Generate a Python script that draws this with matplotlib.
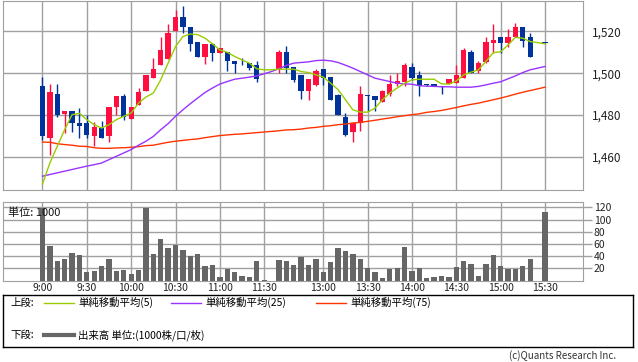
import numpy as np
import matplotlib
matplotlib.use("Agg")
import matplotlib.pyplot as plt

plt.rcParams['font.family'] = ['Noto Sans CJK JP', 'DejaVu Sans']

# 5-minute slots: 9:00 .. 11:30, lunch gap, 12:30 .. 15:30
tick_slots = [0, 6, 12, 18, 24, 30, 38, 44, 50, 56, 62, 68]
tick_labels = ["9:00", "9:30", "10:00", "10:30", "11:00", "11:30",
               "13:00", "13:30", "14:00", "14:30", "15:00", "15:30"]
price_ticks = [1460, 1480, 1500, 1520]
vol_ticks = [20, 40, 60, 80, 100, 120]

nan = np.nan
opens = [1494.0, 1468.9, 1490.2, 1480.6, 1482.1, 1476.3, 1476.3, 1469.8, 1474.0, 1469.8,
         1483.8, 1489.2, 1478.1, 1484.8, 1491.7, 1497.9, 1503.7, 1506.8, 1520.0, 1526.7,
         1521.9, 1514.8, 1507.8, 1514.0, 1509.8, 1510.0, 1505.9, 1503.9, 1504.9, 1504.0,
         nan, nan, 1501.9, 1510.2, 1503.0, 1499.2, 1491.7, 1494.4, 1502.1, 1498.3,
         1489.4, 1479.2, 1471.7, 1476.2, 1489.4, 1489.2, 1486.0, 1490.2, 1494.8, 1496.0,
         1503.0, 1499.2, 1494.8, 1494.9, 1493.9, 1494.9, 1495.4, 1497.9, 1510.0, 1501.1,
         1505.2, 1514.6, 1517.3, 1514.6, 1517.3, 1522.1, 1517.3, nan, 1514.9]
highs = [1498.3, 1494.8, 1494.9, 1482.1, 1482.1, 1483.2, 1480.0, 1476.5, 1477.0, 1484.0,
         1489.2, 1490.2, 1484.0, 1493.0, 1499.2, 1507.1, 1517.5, 1523.3, 1530.2, 1532.2,
         1521.9, 1514.8, 1514.0, 1514.3, 1511.9, 1510.0, 1505.9, 1507.1, 1504.9, 1505.9,
         nan, nan, 1511.1, 1513.0, 1503.0, 1499.2, 1497.3, 1502.1, 1502.1, 1498.3,
         1490.0, 1481.0, 1476.0, 1494.0, 1489.4, 1489.2, 1492.1, 1499.2, 1500.0, 1504.9,
         1504.9, 1501.1, 1494.8, 1494.9, 1493.9, 1497.3, 1504.0, 1511.9, 1511.1, 1505.9,
         1517.5, 1523.3, 1517.3, 1521.1, 1524.1, 1522.1, 1519.2, nan, 1514.9]
lows = [1468.3, 1460.8, 1478.9, 1471.4, 1471.7, 1468.9, 1468.9, 1465.1, 1468.9, 1467.0,
        1479.8, 1477.5, 1478.1, 1484.8, 1491.7, 1497.9, 1503.7, 1506.8, 1520.0, 1519.0,
        1510.8, 1507.8, 1504.6, 1505.6, 1509.6, 1500.8, 1500.0, 1503.7, 1501.6, 1496.0,
        nan, nan, 1500.0, 1500.0, 1496.0, 1487.9, 1487.0, 1493.7, 1494.4, 1487.0,
        1479.8, 1469.8, 1467.0, 1472.2, 1481.7, 1481.7, 1486.0, 1489.2, 1493.7, 1494.1,
        1496.8, 1488.9, 1494.0, 1494.0, 1490.0, 1494.9, 1495.4, 1497.9, 1500.3, 1500.3,
        1504.8, 1509.5, 1509.5, 1512.7, 1517.3, 1512.7, 1507.9, nan, 1514.6]
closes = [1469.8, 1491.1, 1479.8, 1482.1, 1476.0, 1474.9, 1470.6, 1474.1, 1468.9, 1484.0,
          1489.2, 1479.0, 1484.0, 1491.1, 1499.2, 1502.1, 1511.1, 1519.2, 1526.7, 1521.9,
          1513.7, 1507.8, 1514.0, 1509.8, 1511.9, 1505.6, 1504.6, 1503.7, 1502.5, 1497.0,
          nan, nan, 1510.2, 1502.5, 1496.8, 1491.7, 1497.3, 1501.1, 1497.9, 1487.0,
          1479.8, 1470.6, 1476.0, 1490.2, 1489.0, 1487.0, 1491.3, 1494.9, 1496.3, 1503.8,
          1497.8, 1494.0, 1494.2, 1494.0, 1493.6, 1497.3, 1499.0, 1511.1, 1500.3, 1504.9,
          1514.9, 1515.9, 1514.6, 1517.3, 1522.1, 1515.6, 1507.9, nan, 1514.6]

ma5 = [1447.1, 1457.1, 1465.1, 1473.0, 1480.2, 1480.8, 1477.8, 1475.4, 1473.8, 1475.4,
       1477.8, 1479.4, 1481.0, 1485.7, 1488.6, 1490.5, 1496.8, 1504.8, 1512.7, 1517.5,
       1518.7, 1518.4, 1516.7, 1514.0, 1511.1, 1510.0, 1508.0, 1506.3, 1504.8, 1502.1,
       1501.6, 1501.6, 1501.9, 1501.9, 1501.9, 1500.8, 1500.3, 1499.2, 1498.1, 1495.2,
       1492.1, 1487.3, 1482.5, 1481.4, 1481.4, 1483.3, 1487.3, 1490.5, 1492.9, 1495.2,
       1496.8, 1497.1, 1497.1, 1497.1, 1494.9, 1494.8, 1496.3, 1499.2, 1500.5, 1501.6,
       1505.6, 1509.8, 1510.2, 1513.5, 1517.1, 1516.7, 1515.1, 1514.6, 1514.0]
ma25 = [1450.8, 1451.6, 1452.4, 1453.2, 1454.0, 1454.8, 1455.6, 1456.3, 1457.1, 1458.7,
        1460.3, 1461.9, 1463.5, 1465.6, 1467.5, 1469.8, 1473.0, 1475.9, 1479.4, 1482.5,
        1485.4, 1488.1, 1490.8, 1492.9, 1494.8, 1496.0, 1497.1, 1497.6, 1498.1, 1498.7,
        1499.7, 1500.8, 1502.1, 1503.7, 1504.8, 1505.1, 1505.4, 1506.0, 1506.2, 1505.9,
        1505.1, 1503.8, 1502.4, 1500.8, 1499.2, 1497.6, 1496.8, 1496.0, 1495.2, 1494.9,
        1494.7, 1494.0, 1493.8, 1493.7, 1493.5, 1493.5, 1493.3, 1493.3, 1493.3, 1493.7,
        1494.4, 1495.2, 1495.9, 1497.3, 1498.7, 1500.3, 1501.6, 1502.4, 1503.2]
ma75 = [1467.1, 1467.0, 1466.3, 1465.9, 1465.6, 1465.1, 1465.0, 1464.4, 1464.1, 1464.1,
        1464.3, 1464.4, 1464.6, 1464.9, 1465.4, 1465.6, 1466.3, 1467.0, 1467.5, 1467.9,
        1468.3, 1468.6, 1469.2, 1469.7, 1470.2, 1470.5, 1470.8, 1471.0, 1471.3, 1471.6,
        1471.9, 1472.2, 1472.5, 1472.9, 1473.0, 1473.3, 1473.8, 1474.1, 1474.6, 1474.9,
        1475.4, 1475.7, 1476.2, 1476.5, 1477.0, 1477.5, 1478.1, 1478.6, 1479.2, 1479.7,
        1480.2, 1480.6, 1481.3, 1481.7, 1482.2, 1482.9, 1483.6, 1484.4, 1485.1, 1485.7,
        1486.5, 1487.3, 1488.1, 1489.0, 1490.0, 1490.9, 1491.7, 1492.5, 1493.3]

volume = [119, 56.6, 32, 35.2, 45.1, 41.8, 13.9, 15.6, 23.8, 35.2,
          15.6, 17.2, 10.7, 17.2, 119.4, 43.4, 68, 53.3, 58.2, 50,
          39.6, 43.4, 23.8, 25.4, 5.7, 18.9, 13.9, 7.4, 5.7, 32,
          1.4, nan, 33.6, 32, 25.4, 38.5, 25.4, 35.2, 13.9, 30.3,
          53.3, 48.4, 43.4, 35.2, 20.5, 13.9, 4.1, 18.9, 20.5, 54.9,
          15.6, 20.5, 4.1, 5.7, 7.4, 5.7, 22.1, 32, 27, 7.4,
          27, 41.8, 23.8, 18.9, 18.9, 23.8, 35.2, nan, 112.3]

up_color = "#ff0f3f"
down_color = "#003399"
ma_colors = ["#99cc00", "#9933ff", "#ff3300"]
grid_color = "#a0a0a0"

o = np.array(opens)
h = np.array(highs)
l = np.array(lows)
c = np.array(closes)
x = np.arange(len(o))

fig = plt.figure(figsize=(6.38, 3.62), dpi=100)
ax = fig.add_axes([0.0052, 0.4751, 0.9081, 0.5235])
axv = fig.add_axes([0.0052, 0.2251, 0.9081, 0.2169], sharex=ax)

# Candles
colors = np.where(c > o, up_color, down_color)
body_lo = np.minimum(o, c)
body_h = np.maximum(np.abs(c - o), 0.4)
ax.vlines(x, l, h, colors=colors, linewidth=1, zorder=3)
ax.bar(x, body_h, bottom=body_lo, width=0.72, color=colors, linewidth=0, zorder=4)

# Moving averages
for vals, col in zip([ma75, ma25, ma5], ma_colors[::-1]):
    ax.plot(x, vals, color=col, linewidth=1, zorder=5)

ax.set_xlim(-5.3, 73.1)
ax.set_ylim(1444.2, 1534.7)
ax.set_xticks(tick_slots)
ax.set_yticks(price_ticks)
ax.set_yticklabels([f"{v:,}" for v in price_ticks])
ax.yaxis.tick_right()
ax.tick_params(axis="y", length=0, pad=7, labelsize=8.5, colors="#222222")
ax.tick_params(axis="x", length=0, labelbottom=False)
ax.grid(True, color=grid_color, linewidth=1)
ax.set_axisbelow(True)
for sp in ax.spines.values():
    sp.set_color(grid_color)

# Volume
axv.bar(x, volume, width=0.72, color="#666666", linewidth=0, zorder=3)
axv.set_ylim(0, 128.7)
axv.set_yticks(vol_ticks)
axv.yaxis.tick_right()
axv.tick_params(axis="y", length=6.5, width=1, pad=1.5, labelsize=7.5,
                color=grid_color, labelcolor="#222222")
axv.set_xticks(tick_slots)
axv.set_xticklabels(tick_labels)
axv.tick_params(axis="x", length=0, pad=1.5, labelsize=7.5, labelcolor="#222222")
axv.grid(True, color=grid_color, linewidth=1)
axv.set_axisbelow(True)
for sp in axv.spines.values():
    sp.set_color(grid_color)
axv.text(0.008, 0.93, "単位: 1000", transform=axv.transAxes, ha="left", va="top",
         fontsize=8, color="#111111", zorder=5)

# Legend box
lg = fig.add_axes([0.0052, 0.0414, 0.987, 0.1436])
lg.set_xlim(3.3, 633)
lg.set_ylim(347, 295)
lg.set_xticks([])
lg.set_yticks([])
for sp in lg.spines.values():
    sp.set_color("black")
    sp.set_linewidth(1)

row1, row2 = 302.5, 335
lg.text(10, row1, "上段:", fontsize=7.5, va="center", ha="left")
items = [(44, "単純移動平均(5)"), (171, "単純移動平均(25)"), (316, "単純移動平均(75)")]
for (x0, label), col in zip(items, ma_colors):
    lg.plot([x0, x0 + 30], [row1, row1], color=col, linewidth=1)
    lg.text(x0 + 34, row1, label, fontsize=7.5, va="center", ha="left")
lg.text(10, row2, "下段:", fontsize=7.5, va="center", ha="left")
lg.plot([44, 74], [row2, row2], color="#666666", linewidth=3)
lg.text(78, row2, "出来高 単位:(1000株/口/枚)", fontsize=7.5, va="center", ha="left")

fig.text(0.965, 0.018, "(c)Quants Research Inc.", ha="right", va="center",
         fontsize=7, color="#333333")

fig.savefig("out.png", dpi=100)
